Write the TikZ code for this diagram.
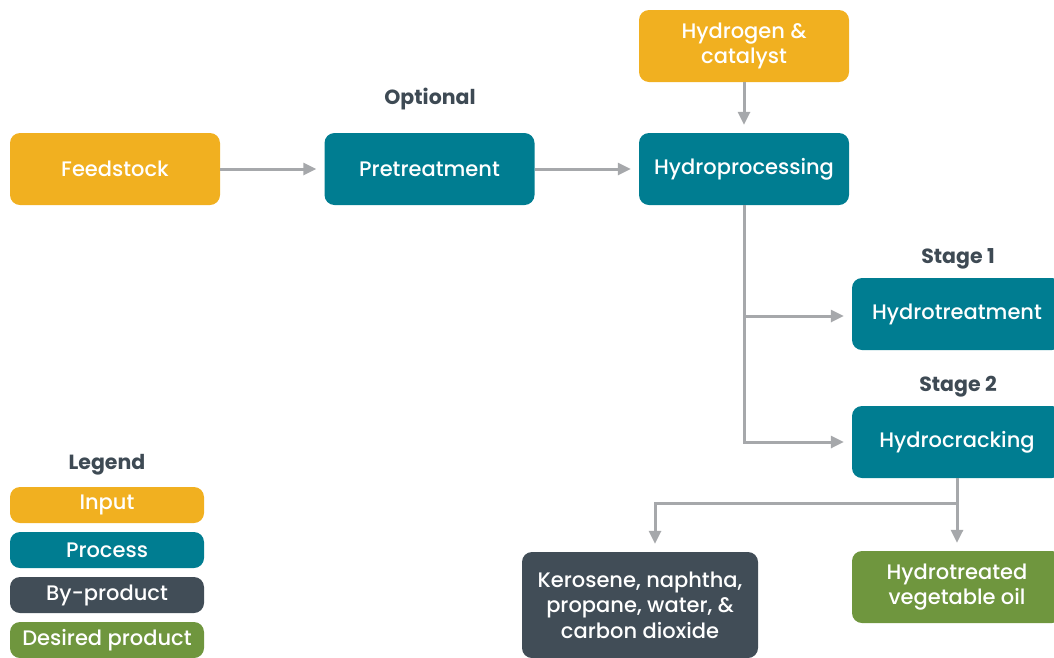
\documentclass[tikz,border=0pt]{standalone}
\usepackage{fontspec}
\setmainfont{Poppins}[UprightFont=* Medium, BoldFont=* Bold]
\usetikzlibrary{arrows.meta}
\definecolor{cin}{HTML}{F1B020}
\definecolor{cproc}{HTML}{007D91}
\definecolor{cby}{HTML}{414D57}
\definecolor{cdes}{HTML}{6F963E}
\definecolor{cgray}{HTML}{A6A8AB}
\definecolor{ctext}{HTML}{3E4A54}
\begin{document}
\begin{tikzpicture}[x=1pt,y=-1pt,
  box/.style={rounded corners=10pt, text=white, align=center, inner sep=0pt,
    font=\fontsize{21}{25.5}\selectfont},
  inbox/.style={box, fill=cin},
  procbox/.style={box, fill=cproc},
  bybox/.style={box, fill=cby},
  desbox/.style={box, fill=cdes},
  big/.style={minimum width=210pt, minimum height=72pt},
  leg/.style={minimum width=194pt, minimum height=36pt},
  conn/.style={draw=cgray, line width=3pt, -{Triangle[length=13pt,width=12pt]}, shorten >=8pt},
  lbl/.style={text=ctext, font=\fontsize{20.5}{24}\selectfont\bfseries}]
\useasboundingbox (0,0) rectangle (1054,657);
% main nodes
\node[inbox, big] (feed) at (115,169) {Feedstock};
\node[procbox, big] (pre) at (429.5,169) {Pretreatment};
\node[procbox, big] (hp) at (744,169) {Hydroprocessing};
\node[inbox, big] (h2) at (744,46) {Hydrogen \&\\catalyst};
\node[procbox, big] (ht) at (957,314) {Hydrotreatment};
\node[procbox, big] (hc) at (957,442) {Hydrocracking};
\node[bybox, minimum width=236pt, minimum height=106pt] (ker) at (640,605) {Kerosene, naphtha,\\propane, water, \&\\carbon dioxide};
\node[desbox, big] (hvo) at (957,587) {Hydrotreated\\vegetable oil};
% labels
\node[lbl] (opt) at (430,99) {Optional};
\node[lbl] (s1) at (958,258.5) {Stage 1};
\node[lbl] (s2) at (958,386.5) {Stage 2};
\node[lbl] (legend) at (107,465) {Legend};
% legend
\node[inbox, leg] (l1) at (107,505) {Input};
\node[procbox, leg] (l2) at (107,550) {Process};
\node[bybox, leg] (l3) at (107,595) {By-product};
\node[desbox, leg] (l4) at (107,640) {Desired product};
% connectors
\draw[conn] (feed) -- (pre);
\draw[conn] (pre) -- (hp);
\draw[conn] (h2) -- (hp);
\draw[conn] (hp.south) |- (hc.west);
\draw[conn] (hp.south) |- ([yshift=-2pt]ht.west);
\coordinate (jb) at ([yshift=-25pt]hc.south);
\draw[conn] (hc.south) -- (hvo.north);
\draw[conn] (jb) -| ([xshift=15pt]ker.north);
\end{tikzpicture}
\end{document}
